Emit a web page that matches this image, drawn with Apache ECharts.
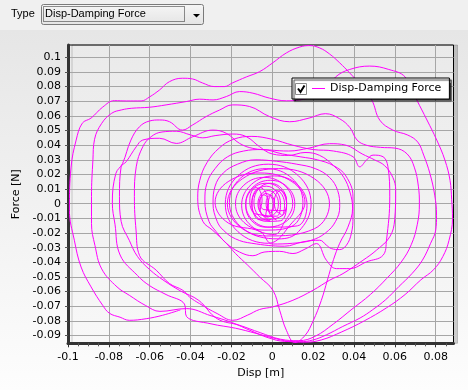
<!DOCTYPE html>
<html><head><meta charset="utf-8">
<script src="https://cdn.jsdelivr.net/npm/echarts@6/dist/echarts.min.js"></script>
<style>
html,body{margin:0;padding:0;width:468px;height:390px;overflow:hidden;}
body{background:linear-gradient(to bottom,#f0f0f0 0px,#f0f0f0 30px,#e6e6e6 30px,#fdfdfd 390px);}
#c{width:468px;height:390px;}
</style>
</head><body><div id="c"></div>
<script>
// ---- data (Disp [m], Force [N]) ----
const xTicks = [-0.1,-0.08,-0.06,-0.04,-0.02,0,0.02,0.04,0.06,0.08];
const yTicks = [-0.09,-0.08,-0.07,-0.06,-0.05,-0.04,-0.03,-0.02,-0.01,0,0.01,0.02,0.03,0.04,0.05,0.06,0.07,0.08,0.09,0.1];
const xMinorTicks = [-0.095,-0.09,-0.085,-0.075,-0.07,-0.065,-0.055,-0.05,-0.045,-0.035,-0.03,-0.025,-0.015,-0.01,-0.005,0.005,0.01,0.015,0.025,0.03,0.035,0.045,0.05,0.055,0.065,0.07,0.075,0.085];

// outer rings
const ring1 = [[-0.045,-0.0725],[-0.0538,-0.0762],[-0.0617,-0.0785],[-0.07,-0.0796],[-0.0745,-0.0775],[-0.0797,-0.0748],[-0.083,-0.0694],[-0.0887,-0.0568],[-0.0936,-0.0432],[-0.0969,-0.0249],[-0.0993,-0.0044],[-0.0985,0.025],[-0.096,0.0435],[-0.093,0.055],[-0.0887,0.0585],[-0.083,0.066],[-0.0773,0.0704],[-0.0715,0.0702],[-0.0642,0.0702],[-0.060,0.073],[-0.0552,0.0777],[-0.0503,0.0834],[-0.044,0.0857],[-0.039,0.0852],[-0.0342,0.0825],[-0.0283,0.080],[-0.0234,0.080],[-0.0195,0.0825],[-0.0127,0.0866],[-0.0062,0.0902],[0.0002,0.0962],[0.0069,0.103],[0.0134,0.107],[0.0183,0.108],[0.0232,0.1064],[0.028,0.1023],[0.033,0.0962],[0.0379,0.0893],[0.0428,0.0818],[0.0487,0.0708],[0.0526,0.0571],[0.059,0.0503],[0.0663,0.0469],[0.0712,0.0421],[0.0741,0.0332],[0.0771,0.0209],[0.0795,0.0059],[0.0804,-0.0078],[0.080,-0.018],[0.0775,-0.027],[0.0735,-0.0385],[0.0685,-0.0475],[0.062,-0.0565],[0.0555,-0.0655],[0.049,-0.0725],[0.043,-0.078],[0.0345,-0.0838],[0.0265,-0.0895],[0.02,-0.093],[0.0134,-0.0942],[0.006,-0.094],[-0.002,-0.0915],[-0.01,-0.087],[-0.02,-0.081],[-0.03,-0.0765],[-0.0421,-0.0716]];
const ring2 = [[-0.055,-0.0735],[-0.062,-0.0695],[-0.07,-0.0625],[-0.076,-0.0568],[-0.0835,-0.0445],[-0.0868,-0.0285],[-0.0885,-0.0135],[-0.0885,0.005],[-0.0878,0.03],[-0.087,0.044],[-0.0835,0.0549],[-0.0786,0.0618],[-0.0737,0.0641],[-0.0688,0.0652],[-0.0601,0.0659],[-0.052,0.0675],[-0.042,0.0698],[-0.0356,0.0714],[-0.029,0.0709],[-0.0225,0.0732],[-0.016,0.0766],[-0.0095,0.0755],[-0.0013,0.0721],[0.0069,0.0703],[0.0134,0.0709],[0.0198,0.073],[0.0265,0.078],[0.031,0.0866],[0.0379,0.0917],[0.0477,0.094],[0.057,0.0917],[0.065,0.0866],[0.0707,0.0709],[0.0757,0.0572],[0.0805,0.0435],[0.0845,0.0298],[0.087,0.016],[0.0878,0.003],[0.0882,-0.01],[0.0865,-0.025],[0.0835,-0.036],[0.079,-0.045],[0.0727,-0.052],[0.065,-0.062],[0.056,-0.071],[0.045,-0.08],[0.034,-0.0875],[0.024,-0.093],[0.016,-0.0945],[0.008,-0.094],[0.0,-0.0915],[-0.008,-0.0885],[-0.018,-0.085],[-0.03,-0.082],[-0.042,-0.077]];
const ring3 = [[-0.043,-0.0685],[-0.052,-0.062],[-0.06,-0.056],[-0.066,-0.049],[-0.0745,-0.035],[-0.077,-0.014],[-0.0783,0.0005],[-0.0766,0.0206],[-0.0733,0.0275],[-0.0692,0.0435],[-0.065,0.0526],[-0.0601,0.0565],[-0.0552,0.0572],[-0.0503,0.056],[-0.044,0.0503],[-0.039,0.0538],[-0.0324,0.0595],[-0.0258,0.064],[-0.0195,0.0675],[-0.0111,0.0664],[-0.0013,0.0595],[0.0085,0.056],[0.018,0.0585],[0.026,0.0615],[0.033,0.058],[0.038,0.052],[0.0415,0.0435],[0.046,0.040],[0.053,0.0385],[0.06,0.038],[0.066,0.034],[0.0695,0.025],[0.0715,0.012],[0.072,0.0],[0.071,-0.014],[0.068,-0.028],[0.063,-0.04],[0.056,-0.051],[0.048,-0.062],[0.039,-0.072],[0.03,-0.082],[0.021,-0.0905],[0.013,-0.0935],[0.004,-0.0925],[-0.006,-0.088],[-0.016,-0.083],[-0.027,-0.0785]];
const ring4 = [[-0.036,-0.066],[-0.045,-0.0595],[-0.053,-0.0525],[-0.06,-0.045],[-0.066,-0.036],[-0.07,-0.025],[-0.074,-0.012],[-0.0748,0.005],[-0.074,0.0252],[-0.0715,0.0287],[-0.0666,0.0389],[-0.0634,0.0435],[-0.0552,0.0447],[-0.047,0.0412],[-0.0389,0.0458],[-0.0291,0.0503],[-0.0225,0.0481],[-0.016,0.0412],[-0.0095,0.0378],[-0.0013,0.0367],[0.008,0.036],[0.018,0.038],[0.028,0.041],[0.036,0.040],[0.044,0.034],[0.05,0.030],[0.055,0.026],[0.059,0.018],[0.0604,0.0093],[0.0599,-0.011],[0.0575,-0.0226],[0.051,-0.0317],[0.0444,-0.0386],[0.0346,-0.0477],[0.0281,-0.0522],[0.0199,-0.0591],[0.0101,-0.0659],[0.0003,-0.0704],[-0.0062,-0.0722],[-0.012,-0.076]];
const ring5 = [[-0.0193,-0.0796],[-0.027,-0.075],[-0.0356,-0.0682],[-0.0405,-0.0637],[-0.0438,-0.0591],[-0.0503,-0.0545],[-0.0568,-0.0454],[-0.065,-0.0353],[-0.0667,-0.018],[-0.0675,0.005],[-0.0666,0.0252],[-0.0634,0.0389],[-0.0593,0.0458],[-0.054,0.049],[-0.047,0.0495],[-0.04,0.047],[-0.034,0.045],[-0.028,0.0465],[-0.0193,0.0476],[-0.0127,0.0458],[-0.0062,0.0389],[0.0,0.034],[0.008,0.033],[0.016,0.035],[0.0232,0.033],[0.03,0.026],[0.035,0.018],[0.038,0.008],[0.0393,-0.003],[0.037,-0.016],[0.033,-0.027],[0.03,-0.038],[0.027,-0.052],[0.024,-0.066],[0.02,-0.08],[0.016,-0.09],[0.011,-0.0948],[0.0069,-0.0864],[0.0036,-0.0727],[0.0003,-0.0591],[-0.0062,-0.05],[-0.012,-0.042],[-0.018,-0.034],[-0.0225,-0.027],[-0.0291,-0.0182]];
// middle rings
const mid1 = [[-0.034,-0.012],[-0.0365,0.004],[-0.0355,0.016],[-0.032,0.028],[-0.026,0.038],[-0.019,0.044],[-0.01,0.046],[0.0,0.044],[0.01,0.04],[0.02,0.037],[0.03,0.036],[0.0395,0.0321],[0.0428,0.0252],[0.0461,0.0298],[0.0493,0.0332],[0.0542,0.0321],[0.0566,0.0252],[0.0575,0.0047],[0.0559,-0.0249],[0.0542,-0.0352],[0.0461,-0.0397],[0.0379,-0.0443],[0.0314,-0.0443],[0.0265,-0.0386],[0.0216,-0.0272],[0.016,-0.031],[0.0101,-0.034],[0.0036,-0.0325],[-0.004,-0.033]];
const mid2 = [[-0.0095,-0.0355],[-0.016,-0.033],[-0.0225,-0.027],[-0.0275,-0.019],[-0.031,-0.012],[-0.033,0.002],[-0.032,0.014],[-0.028,0.024],[-0.022,0.032],[-0.014,0.036],[-0.005,0.037],[0.005,0.034],[0.014,0.032],[0.022,0.03],[0.03,0.026],[0.036,0.019],[0.0395,0.0047],[0.0395,-0.009],[0.0387,-0.0203],[0.0363,-0.0283],[0.033,-0.0313],[0.0289,-0.0306],[0.0265,-0.0283],[0.0232,-0.0249],[0.015,-0.026],[0.006,-0.029]];
const mid3 = [[-0.01,-0.027],[-0.018,-0.024],[-0.024,-0.018],[-0.027,-0.012],[-0.029,0.0],[-0.028,0.012],[-0.024,0.021],[-0.017,0.027],[-0.008,0.03],[0.002,0.029],[0.012,0.027],[0.021,0.024],[0.028,0.018],[0.032,0.009],[0.033,-0.002],[0.031,-0.012],[0.026,-0.02],[0.019,-0.025],[0.01,-0.027],[0.0,-0.0275]];
// inner cluster loops
const core1 = [[-0.006,-0.019],[-0.0216,-0.0131],[-0.028,0.001],[-0.0216,0.0151],[-0.006,0.021],[0.0096,0.0151],[0.016,0.001],[0.0096,-0.0131]];
const core2 = [[-0.002,-0.027],[-0.0168,-0.0191],[-0.023,0],[-0.0168,0.0191],[-0.002,0.027],[0.0128,0.0191],[0.019,0],[0.0128,-0.0191]];
const core3 = [[0.003,-0.024],[-0.0147,-0.017],[-0.022,0],[-0.0147,0.017],[0.003,0.024],[0.0207,0.017],[0.028,0],[0.0207,-0.017]];
const core4 = [[-0.003,-0.022],[-0.0157,-0.0153],[-0.021,0.001],[-0.0157,0.0173],[-0.003,0.024],[0.0097,0.0173],[0.015,0.001],[0.0097,-0.0153]];
const core5 = [[-0.004,-0.018],[-0.0139,-0.0127],[-0.018,0],[-0.0139,0.0127],[-0.004,0.018],[0.0059,0.0127],[0.01,0],[0.0059,-0.0127]];
const core6 = [[0.001,-0.021],[-0.0103,-0.0151],[-0.015,-0.001],[-0.0103,0.0131],[0.001,0.019],[0.0123,0.0131],[0.017,-0.001],[0.0123,-0.0151]];
const core7 = [[-0.001,-0.016],[-0.0095,-0.0113],[-0.013,0],[-0.0095,0.0113],[-0.001,0.016],[0.0075,0.0113],[0.011,0],[0.0075,-0.0113]];
const core8 = [[-0.003,-0.016],[-0.0101,-0.0116],[-0.013,-0.001],[-0.0101,0.0096],[-0.003,0.014],[0.0041,0.0096],[0.007,-0.001],[0.0041,-0.0116]];
const core9 = [[-0.003,-0.012],[-0.008,-0.0085],[-0.01,0],[-0.008,0.0085],[-0.003,0.012],[0.002,0.0085],[0.004,0],[0.002,-0.0085]];
const core10 = [[-0.008,-0.007],[-0.0101,-0.0044],[-0.011,0.002],[-0.0101,0.0084],[-0.008,0.011],[-0.0059,0.0084],[-0.005,0.002],[-0.0059,-0.0044]];
const core11 = [[-0.001,-0.012],[-0.0067,-0.0082],[-0.009,0.001],[-0.0067,0.0102],[-0.001,0.014],[0.0047,0.0102],[0.007,0.001],[0.0047,-0.0082]];
const core12 = [[-0.006,-0.011],[-0.0088,-0.0078],[-0.01,0],[-0.0088,0.0078],[-0.006,0.011],[-0.0032,0.0078],[-0.002,0],[-0.0032,-0.0078]];
const core13 = [[-0.002,-0.009],[-0.0055,-0.0064],[-0.007,0],[-0.0055,0.0064],[-0.002,0.009],[0.0015,0.0064],[0.003,0],[0.0015,-0.0064]];
const core14 = [[-0.003,-0.009],[-0.0055,-0.0067],[-0.0065,-0.001],[-0.0055,0.0047],[-0.003,0.007],[-0.0005,0.0047],[0.0005,-0.001],[-0.0005,-0.0067]];
const core15 = [[0.002,-0.011],[-0.0008,-0.0081],[-0.002,-0.001],[-0.0008,0.0061],[0.002,0.009],[0.0048,0.0061],[0.006,-0.001],[0.0048,-0.0081]];
const core16 = [[0.004,-0.007],[0.0019,-0.0047],[0.001,0.001],[0.0019,0.0067],[0.004,0.009],[0.0061,0.0067],[0.007,0.001],[0.0061,-0.0047]];
const core17 = [[-0.004,-0.004],[-0.0054,-0.0025],[-0.006,0.001],[-0.0054,0.0045],[-0.004,0.006],[-0.0026,0.0045],[-0.002,0.001],[-0.0026,-0.0025]];
const core18 = [[-0.001,-0.006],[-0.0024,-0.0042],[-0.003,0],[-0.0024,0.0042],[-0.001,0.006],[0.0004,0.0042],[0.001,0],[0.0004,-0.0042],[-0.001,-0.006]];

const trace = [].concat(ring1, ring2, ring3, ring4, ring5, mid1, mid2, mid3,
  core1, core2, core3, core4, core5, core6, core7, core8, core9, core10,
  core11, core12, core13, core14, core15, core16, core17, core18);

// ---- chart ----
const FONT = 'DejaVu Sans';
const fmt = v => { const r = Math.round(v * 100) / 100; return r === 0 ? '0' : String(r); };
const chart = echarts.init(document.getElementById('c'), null, {renderer: 'canvas'});
chart.setOption({
  animation: false,
  backgroundColor: 'transparent',
  grid: {
    left: 68, right: 14.5, top: 45, bottom: 46.7,
    show: true,
    backgroundColor: new echarts.graphic.LinearGradient(0, 0, 0, 1, [
      {offset: 0, color: '#eaeaea'}, {offset: 1, color: '#f8f8f8'}]),
    borderColor: '#000', borderWidth: 1,
    shadowColor: 'rgba(0,0,0,0.18)', shadowOffsetX: 4, shadowOffsetY: 0, shadowBlur: 0
  },
  xAxis: [{
    type: 'value', min: -0.1, max: 0.0887, position: 'bottom',
    axisLine: {show: true, onZero: false, lineStyle: {color: '#333', width: 3}},
    axisTick: {show: true, customValues: xTicks, length: 4, inside: false, lineStyle: {color: '#333', width: 1}},
    axisLabel: {customValues: xTicks, formatter: fmt, color: '#000', fontFamily: FONT, fontSize: 11, margin: 8},
    splitLine: {show: true, lineStyle: {color: '#a6a6a6', width: 1}},
    name: 'Disp [m]', nameLocation: 'middle', nameGap: 20,
    nameTextStyle: {color: '#000', fontFamily: FONT, fontSize: 11}
  }, {
    type: 'value', min: -0.1, max: 0.0887, position: 'bottom',
    axisLine: {show: false, onZero: false},
    axisTick: {show: true, customValues: xMinorTicks, length: 3, lineStyle: {color: '#555', width: 1}},
    axisLabel: {show: false}, splitLine: {show: false}
  }],
  yAxis: [{
    type: 'value', min: -0.0953, max: 0.1084, position: 'left',
    axisLine: {show: true, onZero: false, lineStyle: {color: '#333', width: 3}},
    axisTick: {show: true, customValues: yTicks, length: 3, lineStyle: {color: '#555', width: 1}},
    axisLabel: {customValues: yTicks, formatter: fmt, color: '#000', fontFamily: FONT, fontSize: 11, margin: 7},
    splitLine: {show: true, lineStyle: {color: '#a6a6a6', width: 1}},
    name: 'Force [N]', nameLocation: 'middle', nameGap: 41, nameRotate: 90,
    nameTextStyle: {color: '#000', fontFamily: FONT, fontSize: 11}
  }],
  legend: {
    show: true, data: ['Disp-Damping Force'], selectedMode: false,
    left: 292, top: 78, orient: 'horizontal',
    padding: [5, 8, 5, 20], itemWidth: 13, itemHeight: 1, itemGap: 0, icon: 'rect',
    backgroundColor: '#fff', borderColor: '#000', borderWidth: 1, borderRadius: 0,
    shadowColor: 'rgba(0,0,0,0.75)', shadowOffsetX: 2, shadowOffsetY: 2, shadowBlur: 1,
    textStyle: {color: '#000', fontFamily: FONT, fontSize: 11}
  },
  series: [{
    type: 'line', name: 'Disp-Damping Force', data: trace,
    xAxisIndex: 0, yAxisIndex: 0,
    showSymbol: false, symbol: 'none', smooth: 0.4, clip: true,
    lineStyle: {color: '#ff00ff', width: 1}, itemStyle: {color: '#ff00ff'},
    z: 3
  }],
  graphic: [
    {type: 'text', left: 11, top: 8, style: {text: 'Type', fill: '#000', font: '11px "Liberation Sans"'}},
    {type: 'rect', shape: {x: 41.5, y: 4.5, width: 162, height: 20, r: 2},
      style: {fill: new echarts.graphic.LinearGradient(0, 0, 0, 1, [{offset: 0, color: '#f6f6f6'}, {offset: 1, color: '#e4e4e4'}]), stroke: '#7a7a7a', lineWidth: 1}},
    {type: 'rect', shape: {x: 43.5, y: 6.5, width: 141, height: 15},
      style: {fill: 'none', stroke: '#222', lineWidth: 1, lineDash: [1, 1]}},
    {type: 'text', left: 45, top: 8, style: {text: 'Disp-Damping Force', fill: '#000', font: '11px "Liberation Sans"'}},
    {type: 'polygon', shape: {points: [[193, 14], [200, 14], [196.5, 17.5]]}, style: {fill: '#000'}},
    {type: 'rect', z: 100, shape: {x: 295.5, y: 83.5, width: 11, height: 11}, style: {fill: '#fff', stroke: '#8a8a8a', lineWidth: 1}},
    {type: 'polyline', z: 101, shape: {points: [[298, 88.5], [300.5, 92], [304.5, 85.5]]}, style: {stroke: '#000', lineWidth: 2, fill: 'none'}}
  ]
});
</script></body></html>
